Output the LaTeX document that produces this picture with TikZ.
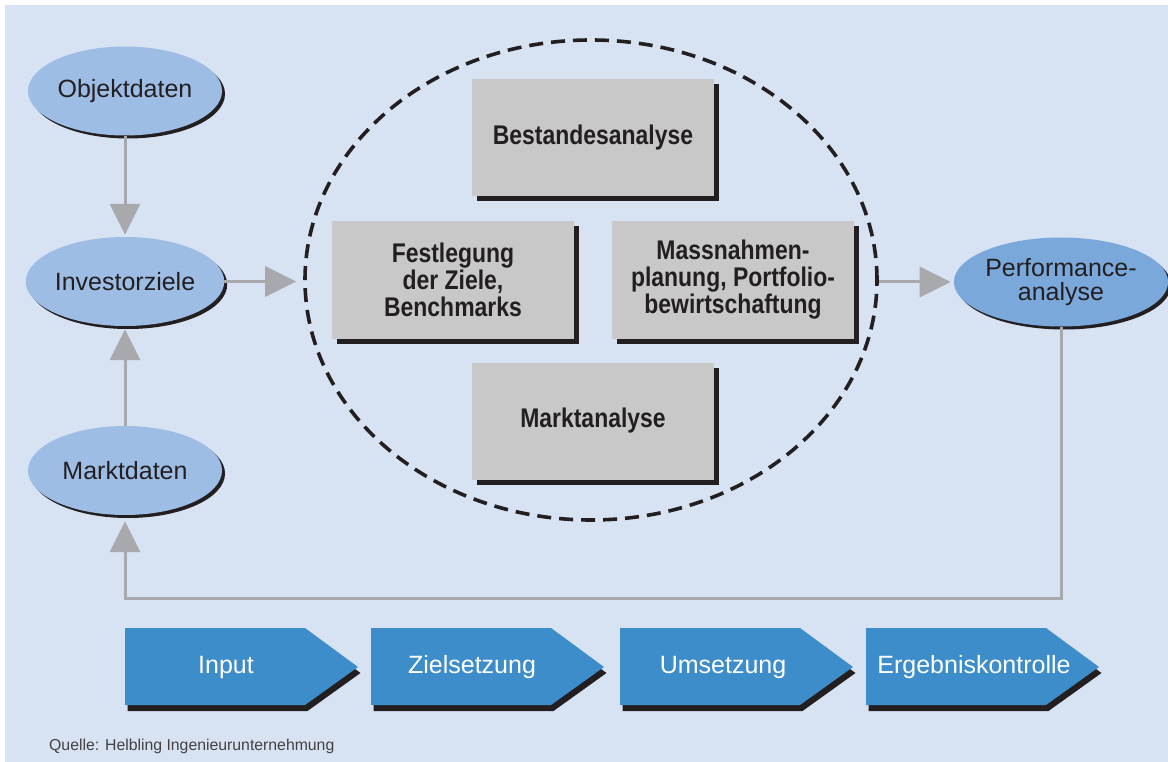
\documentclass[tikz,border=0pt]{standalone}
\usepackage{fontspec}
\setmainfont{Liberation Sans}
\newfontfamily\boxfont{Liberation Sans}[FakeStretch=0.85]
\usetikzlibrary{shapes.geometric,arrows.meta,shadows}

\definecolor{bgblue}{HTML}{D7E3F3}
\definecolor{ovalblue}{HTML}{9DBDE5}
\definecolor{ovaldark}{HTML}{7BA8DA}
\definecolor{boxgray}{HTML}{C8C8C8}
\definecolor{chevblue}{HTML}{3E8DCB}
\definecolor{arrowgray}{HTML}{A7A9AC}
\definecolor{ink}{HTML}{231F20}

\begin{document}
\begin{tikzpicture}[x=1pt,y=-1pt,
  oval/.style={ellipse, fill=ovalblue, minimum width=194pt, minimum height=89pt,
    inner sep=0pt, text=ink, font=\fontsize{25}{24}\selectfont, align=center,
    drop shadow={shadow xshift=3pt, shadow yshift=-3pt, fill=ink, opacity=1}},
  stage/.style={rectangle, fill=boxgray, minimum width=242pt, minimum height=117pt,
    inner sep=0pt, text=ink, font=\boxfont\bfseries\fontsize{27}{27}\selectfont,
    align=center,
    drop shadow={shadow xshift=5pt, shadow yshift=-5pt, fill=ink, opacity=1}},
  flow/.style={draw=arrowgray, line width=3pt, -{Triangle[width=30pt,length=31pt]}},
  chevtext/.style={anchor=base, inner sep=0pt, text=white, font=\fontsize{25}{25}\selectfont},
  chevron/.style={insert path={-- ++(180,0) -- ++(53,39) -- ++(-53,38) -- ++(-180,0) -- cycle}},
]
% canvas and background
\useasboundingbox (0,0) rectangle (1168,762);
\fill[bgblue] (5,5) rectangle (1168,762);

% dashed process ellipse
\node[ellipse, draw=ink, line width=3.6pt, dash pattern=on 14pt off 8pt,
      minimum width=572pt, minimum height=480pt, inner sep=0pt] (circ) at (591,280) {};

% input ovals
\node[oval] (obj) at (125,91) {Objektdaten};
\node[oval] (inv) at (125,281.5) {Investorziele};
\node[oval] (mkt) at (125,470.5) {Marktdaten};
\node[oval, fill=ovaldark] (perf) at (1061,282) {Performance-\\analyse};

% process boxes
\node[stage] (b1) at (593,137.5) {Bestandesanalyse};
\node[stage] (b2) at (453,280) {Festlegung\\der Ziele,\\Benchmarks};
\node[stage] (b3) at (733,280) {Massnahmen-\\planung, Portfolio-\\bewirtschaftung};
\node[stage] (b4) at (593,421) {Marktanalyse};

% connectors
\draw[flow, shorten >=2pt] (obj.south) -- (inv.north);
\draw[flow, shorten >=3pt] (mkt.north) -- (inv.south);
\draw[flow, shorten >=7pt] (inv.east) -- (circ.west |- inv.east);
\draw[flow, shorten >=3pt] (perf.west -| circ.east) -- (perf.west);
\coordinate (loop) at (0,598);
\draw[flow, shorten >=6pt] (perf.south) -- (perf.south |- loop) -| (mkt.south);

% phase chevrons: dark offset copy first, blue shape on top
\foreach \x/\tx/\lab/\nm in {125/226/Input/c1, 371/472/Zielsetzung/c2,
                             620/723/Umsetzung/c3, 866/974/Ergebniskontrolle/c4} {
  \fill[ink] ({\x+2.5},634) [chevron];
  \fill[chevblue] (\x,628) [chevron];
  \node[chevtext] (\nm) at (\tx,673) {\lab};
}

% source note
\node[anchor=base west, inner sep=0pt, text=ink!85, font=\fontsize{15.8}{16}\selectfont] (src)
  at (49,750) {Quelle: Helbling Ingenieurunternehmung};
\end{tikzpicture}
\end{document}
